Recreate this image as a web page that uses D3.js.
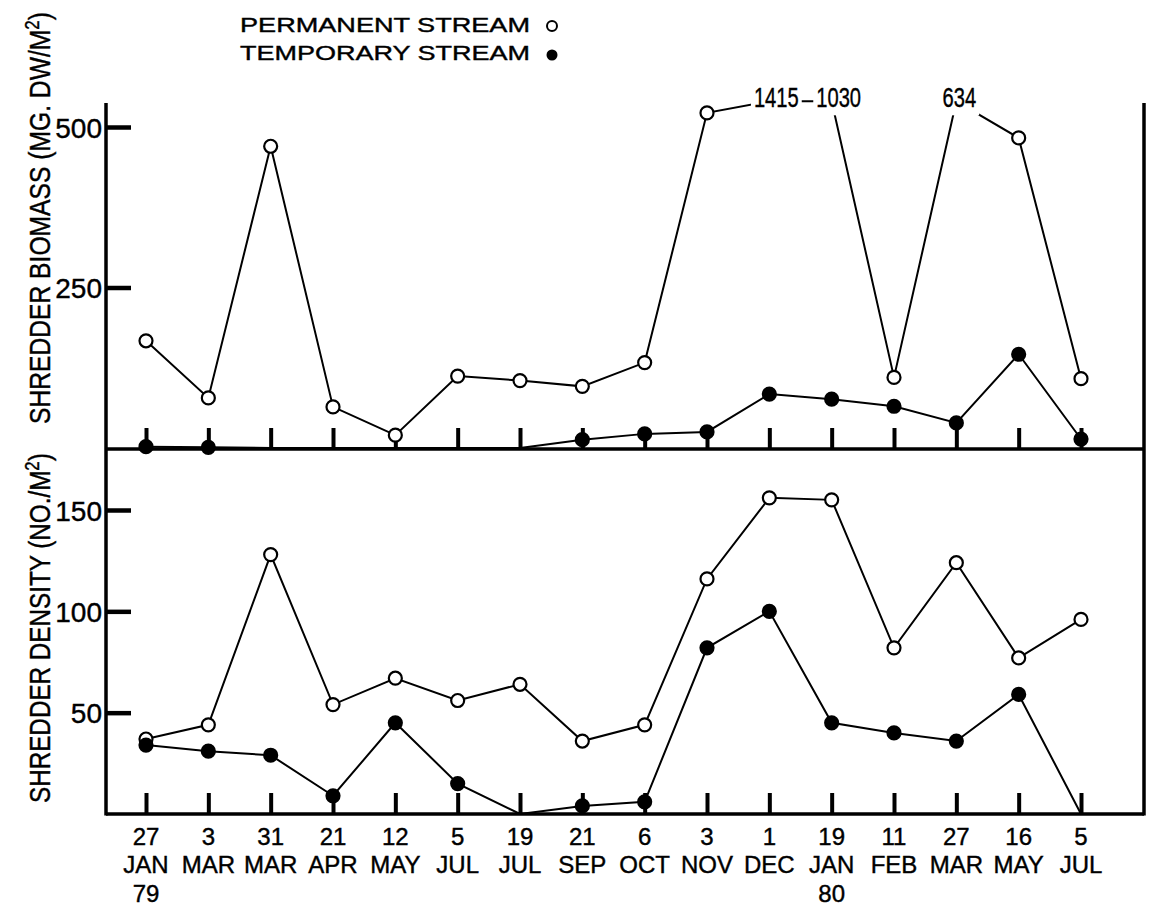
<!DOCTYPE html>
<html><head><meta charset="utf-8">
<script src="https://cdn.jsdelivr.net/npm/d3@7"></script>
<style>
html,body{margin:0;padding:0;background:#fff;}
text{font-family:"Liberation Sans",Arial,sans-serif;fill:#000;}
</style></head>
<body>
<svg id="chart" width="1157" height="909"></svg>
<script>
// ---- data ----
const days   = ["27","3","31","21","12","5","19","21","6","3","1","19","11","27","16","5"];
const months = ["JAN","MAR","MAR","APR","MAY","JUL","JUL","SEP","OCT","NOV","DEC","JAN","FEB","MAR","MAY","JUL"];
const years  = ["79","","","","","","","","","","","80","","","",""];
const biomassPermanent = [167,78,470,64,20,112,105,96,133,522,1415,1030,110,634,483,108];
const biomassTemporary = [2,1,0,0,0,0,0,13,22,25,84,76,65,39,146,14];
const densityPermanent = [37,44,128,54,67,56,64,36,44,116,156,155,82,124,77,96];
const densityTemporary = [34,31,29,9,45,15,0,4,6,82,100,45,40,36,59,0];
const biomassTicks = [250,500];
const densityTicks = [50,100,150];
const legendLabels = ["PERMANENT STREAM","TEMPORARY STREAM"];
const biomassClip = 540; // values above this are written as numbers at the top

// ---- layout ----
const svg = d3.select("#chart");
const L = 106, R = 1144;
const x = d3.scalePoint().domain(d3.range(days.length)).range([146,1081]);
const yTop = d3.scaleLinear().domain([0,500]).range([448,127]);
const yBot = d3.scaleLinear().domain([0,150]).range([814,510]);
const midY = 449, botY = 814, topY = 103;

// frame
const frame = svg.append("g").attr("stroke","#000").attr("stroke-width",3.5).attr("fill","none");
frame.append("line").attr("x1",L).attr("x2",L).attr("y1",topY).attr("y2",botY+1.5);
frame.append("line").attr("x1",R).attr("x2",R).attr("y1",topY).attr("y2",botY+1.5);
frame.append("line").attr("x1",L).attr("x2",R).attr("y1",midY).attr("y2",midY);
frame.append("line").attr("x1",L).attr("x2",R).attr("y1",botY).attr("y2",botY);

// x ticks in both panels
[midY, botY].forEach(by=>{
  const g = svg.append("g").attr("transform",`translate(0,${by})`)
    .call(d3.axisBottom(x).tickSize(-21).tickFormat(""));
  g.select(".domain").remove();
  g.selectAll(".tick line").attr("stroke","#000").attr("stroke-width",4);
});

// y axes
function yAxis(scale, ticks){
  const g = svg.append("g").attr("transform",`translate(${L},0)`)
    .call(d3.axisLeft(scale).tickValues(ticks).tickSize(-25).tickPadding(4));
  g.select(".domain").remove();
  g.selectAll(".tick line").attr("stroke","#000").attr("stroke-width",4.5);
  g.selectAll(".tick text").attr("font-size",28).attr("font-family","Liberation Sans, Arial, sans-serif")
    .attr("dy","0.36em").attr("fill","#000").attr("stroke","#000").attr("stroke-width",0.4);
}
yAxis(yTop, biomassTicks);
yAxis(yBot, densityTicks);

// x labels
const xl = svg.append("g").attr("font-size",24).attr("text-anchor","middle")
  .attr("stroke","#000").attr("stroke-width",0.4);
days.forEach((d,i)=>{
  const t = xl.append("text").attr("x",x(i)).attr("y",845);
  t.append("tspan").attr("x",x(i)).text(d);
  t.append("tspan").attr("x",x(i)).attr("dy",28).text(months[i]);
  if(years[i]) t.append("tspan").attr("x",x(i)).attr("dy",29).text(years[i]);
});

// y titles (glyphs kept tall, run compressed to fit the panel)
function yTitle(main, sup, y0, len){
  const t = svg.append("text").attr("font-size",29)
    .attr("stroke","#000").attr("stroke-width",0.4);
  t.append("tspan").text(main);
  t.append("tspan").attr("font-size",20).attr("dy",-11).text(sup);
  t.append("tspan").attr("dy",11).text(")");
  const natural = t.node().getComputedTextLength();
  t.attr("transform",`translate(50,${y0}) rotate(-90) scale(${len/natural},1)`);
}
yTitle("SHREDDER BIOMASS (MG. DW/M","2",424,412);
yTitle("SHREDDER DENSITY (NO./M","2",803,350);

// legend
const lg = svg.append("g");
legendLabels.forEach((s,i)=>{
  lg.append("text").attr("x",240).attr("y",[32,60][i]).attr("font-size",21)
    .attr("stroke","#000").attr("stroke-width",0.4)
    .attr("textLength",290).attr("lengthAdjust","spacingAndGlyphs").text(s);
});
lg.append("circle").attr("cx",552).attr("cy",26).attr("r",5).attr("fill","#fff").attr("stroke","#000").attr("stroke-width",2);
lg.append("circle").attr("cx",552).attr("cy",55).attr("r",5.5).attr("fill","#000");

// series
const line = (ys)=> d3.line().x((d,i)=>x(i)).y(d=>ys(d));
function drawSeries(vals, ys){
  svg.append("path").datum(vals).attr("d",line(ys)).attr("fill","none")
    .attr("stroke","#000").attr("stroke-width",2);
}
function drawMarkers(vals, ys, filled, clip){
  svg.append("g").selectAll("circle")
    .data(vals.map((v,i)=>({v,i})).filter(d=> filled ? d.v>0 : (clip==null || d.v<=clip)))
    .join("circle").attr("cx",d=>x(d.i)).attr("cy",d=>ys(d.v)).attr("r",6.5)
    .attr("fill",filled?"#000":"#fff").attr("stroke","#000").attr("stroke-width",2.2);
}

// biomass permanent with off-scale values written at top
const clipped = biomassPermanent.map(v=>Math.min(v,biomassClip));
drawSeries(clipped, yTop);
const offg = svg.append("g");
biomassPermanent.forEach((v,i)=>{
  if(v>biomassClip){
    const txt = String(v);
    const t = offg.append("text").attr("x",x(i)+ (txt.length>3?7:3)).attr("y",yTop(biomassClip)+6)
      .attr("text-anchor","middle").attr("font-size",28).attr("stroke","#000").attr("stroke-width",0.4)
      .attr("textLength",txt.length*11.2).attr("lengthAdjust","spacingAndGlyphs").text(txt);
    const b = t.node().getBBox();
    offg.insert("rect","text").attr("x",b.x-3).attr("y",b.y-2).attr("width",b.width+6).attr("height",b.height+4).attr("fill","#fff");
  }
});
drawSeries(biomassTemporary, yTop);
drawMarkers(biomassPermanent, yTop, false, biomassClip);
drawMarkers(biomassTemporary, yTop, true);

drawSeries(densityPermanent, yBot);
drawSeries(densityTemporary, yBot);
drawMarkers(densityPermanent, yBot, false);
drawMarkers(densityTemporary, yBot, true);
</script>
</body></html>
